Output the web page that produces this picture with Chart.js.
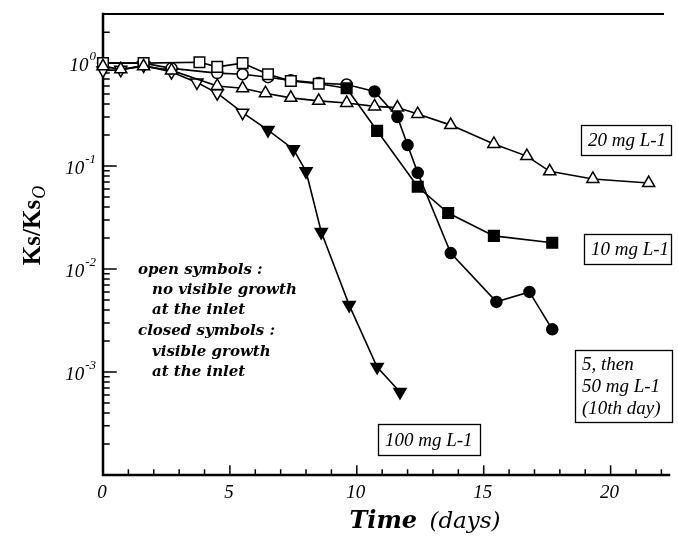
<!DOCTYPE html>
<html><head><meta charset="utf-8">
<script src="https://cdn.jsdelivr.net/npm/chart.js@4"></script>
<style>html,body{margin:0;padding:0;background:#fff}#wrap{width:678px;height:537px}</style>
</head><body><div id="wrap"><canvas id="c" width="678" height="537"></canvas></div>
<script>
// ---- data ----
const days20  = [0, 0.7, 1.6, 2.7, 4.5, 5.5, 6.4, 7.4, 8.5, 9.6, 10.7, 11.6, 12.4, 13.7, 15.4, 16.7, 17.6, 19.3, 21.5];
const ks20    = [0.93, 0.87, 0.93, 0.85, 0.60, 0.57, 0.51, 0.46, 0.43, 0.41, 0.38, 0.37, 0.32, 0.25, 0.164, 0.125, 0.089, 0.075, 0.0685];
const days10  = [0, 1.6, 3.8, 4.5, 5.5, 6.5, 7.4, 8.5, 9.6, 10.8, 12.4, 13.6, 15.4, 17.7];
const ks10    = [1.0, 1.0, 1.02, 0.92, 1.0, 0.78, 0.67, 0.63, 0.57, 0.22, 0.063, 0.035, 0.021, 0.018];
const days5_50 = [0, 1.6, 2.7, 4.5, 5.5, 6.5, 7.4, 8.5, 9.6, 10.7, 11.6, 12.0, 12.4, 13.7, 15.5, 16.8, 17.7];
const ks5_50   = [1.0, 1.0, 0.89, 0.80, 0.78, 0.73, 0.68, 0.64, 0.62, 0.53, 0.30, 0.16, 0.086, 0.0143, 0.0048, 0.0060, 0.0026];
const days100 = [0, 0.7, 1.6, 2.7, 3.7, 4.5, 5.5, 6.5, 7.5, 8.0, 8.6, 9.7, 10.8, 11.7];
const ks100   = [0.85, 0.86, 0.95, 0.82, 0.65, 0.51, 0.33, 0.224, 0.146, 0.089, 0.0229, 0.00447, 0.00112, 0.00064];
// first day with visible growth at the inlet (closed symbols from then on)
const growthDay = { c20: Infinity, c10: 9.6, c5_50: 10.7, c100: 6.5 };
const xTickValues = [0, 5, 10, 15, 20];
const yTickExponents = [0, -1, -2, -3];
const seriesLabels = ['20 mg L-1', '10 mg L-1', '5, then 50 mg L-1 (10th day)', '100 mg L-1'];

const pts = (xs, ys) => xs.map((x, i) => ({ x, y: ys[i] }));
const fillFn = (day) => (ctx) => (ctx.raw && ctx.raw.x >= day) ? '#000' : '#fff';

function ds(label, data, day, style, radius, rotation) {
  return {
    label, data,
    borderColor: '#000', borderWidth: 1.6,
    pointStyle: style, pointRadius: radius, pointHoverRadius: radius,
    pointRotation: rotation || 0,
    pointBorderColor: '#000', pointBorderWidth: 1.5,
    pointBackgroundColor: fillFn(day),
    tension: 0, clip: false, fill: false
  };
}

const SERIF = '"Liberation Serif", "Times New Roman", serif';
const DSERIF = '"DejaVu Serif", serif';

const framePlugin = {
  id: 'frame',
  beforeDatasetsDraw(chart) {
    const ctx = chart.ctx, a = chart.chartArea, xs = chart.scales.x, ys = chart.scales.y;
    ctx.save();
    ctx.strokeStyle = '#000';
    ctx.lineCap = 'square';
    ctx.lineWidth = 2.5;
    ctx.beginPath();
    ctx.moveTo(a.left, a.top); ctx.lineTo(a.left, a.bottom); ctx.lineTo(a.right, a.bottom);
    ctx.stroke();
    ctx.lineWidth = 2;
    ctx.beginPath(); ctx.moveTo(a.left, a.top); ctx.lineTo(a.right - 6, a.top); ctx.stroke();
    ctx.lineWidth = 1.5;
    ctx.beginPath();
    for (let d = 1; d <= Math.floor(xs.max); d++) {
      const px = xs.getPixelForValue(d);
      const len = d % 5 === 0 ? 9 : 5;
      ctx.moveTo(px, a.bottom); ctx.lineTo(px, a.bottom - len);
    }
    for (let e = -4; e <= 0; e++) {
      for (let m = 1; m <= 9; m++) {
        const v = m * Math.pow(10, e);
        if (v <= ys.min * 1.0001 || v > ys.max * 1.0001) continue;
        const py = ys.getPixelForValue(v);
        const len = m === 1 ? 13 : 6;
        ctx.moveTo(a.left, py); ctx.lineTo(a.left + len, py);
      }
    }
    ctx.stroke();
    ctx.restore();
  },
  afterDraw(chart) {
    const ctx = chart.ctx, a = chart.chartArea, xs = chart.scales.x, ys = chart.scales.y;
    ctx.save();
    ctx.fillStyle = '#000';
    // y tick labels 10^n
    yTickExponents.forEach(e => {
      const py = ys.getPixelForValue(Math.pow(10, e));
      const base = '10', sup = String(e);
      ctx.font = 'italic 19px ' + SERIF;
      const wb = ctx.measureText(base).width;
      ctx.font = 'italic 13px ' + SERIF;
      const ws = ctx.measureText(sup).width;
      const x0 = 96 - wb - ws - 1;
      ctx.textBaseline = 'alphabetic'; ctx.textAlign = 'left';
      ctx.font = 'italic 19px ' + SERIF;
      ctx.fillText(base, x0, py + 8);
      ctx.font = 'italic 13px ' + SERIF;
      ctx.fillText(sup, x0 + wb + 1, py - 3);
    });
    // x tick labels
    ctx.font = 'italic 19px ' + SERIF;
    ctx.textAlign = 'center'; ctx.textBaseline = 'middle';
    xTickValues.forEach(v => ctx.fillText(String(v), xs.getPixelForValue(v) - 1, a.bottom + 18));
    // x title
    ctx.textBaseline = 'alphabetic'; ctx.textAlign = 'left';
    ctx.font = 'bold italic 24px ' + DSERIF;
    const t1 = 'Time ', t2 = '(days)';
    const w1 = ctx.measureText(t1).width;
    ctx.font = 'italic 23px ' + DSERIF;
    const w2 = ctx.measureText(t2).width;
    const tx = 423 - (w1 + w2) / 2;
    ctx.font = 'bold italic 24px ' + DSERIF;
    ctx.fillText(t1, tx, 528);
    ctx.font = 'italic 23px ' + DSERIF;
    ctx.fillText(t2, tx + w1 + 4, 528);
    // y title Ks/Ks_O
    ctx.save();
    ctx.translate(40, 226);
    ctx.rotate(-Math.PI / 2);
    ctx.font = 'bold 25px ' + SERIF;
    const yb = 'Ks/Ks';
    const wyb = ctx.measureText(yb).width;
    ctx.font = 'italic 18px ' + SERIF;
    const wys = ctx.measureText('O').width;
    const sx = -(wyb + wys) / 2;
    ctx.font = 'bold 25px ' + SERIF;
    ctx.fillText(yb, sx, 0);
    ctx.font = 'italic 18px ' + SERIF;
    ctx.fillText('O', sx + wyb + 1, 5);
    ctx.restore();
    // annotation block
    ctx.font = 'bold italic 15px ' + DSERIF;
    ctx.textBaseline = 'middle';
    const notes = [
      ['open symbols :', 138, 270],
      ['no visible growth', 152, 290],
      ['at the inlet', 152, 310],
      ['closed symbols :', 138, 331],
      ['visible growth', 152, 352],
      ['at the inlet', 152, 372]
    ];
    notes.forEach(n => ctx.fillText(n[0], n[1], n[2]));
    // series label boxes
    const boxes = [
      { lines: ['20 mg L-1'], x: 581, y: 125, w: 90, h: 30 },
      { lines: ['10 mg L-1'], x: 584, y: 234, w: 87, h: 30 },
      { lines: ['5, then', '50 mg L-1', '(10th day)'], x: 575, y: 350, w: 97, h: 72 },
      { lines: ['100 mg L-1'], x: 378, y: 424, w: 102, h: 31 }
    ];
    ctx.font = 'italic 19px ' + SERIF;
    ctx.lineWidth = 1.3;
    boxes.forEach(b => {
      ctx.strokeRect(b.x + 0.5, b.y + 0.5, b.w, b.h);
      const lh = b.lines.length > 1 ? 22 : 0;
      const y0 = b.y + b.h / 2 - lh * (b.lines.length - 1) / 2 + 1;
      b.lines.forEach((l, i) => ctx.fillText(l, b.x + 7, y0 + i * lh));
    });
    ctx.restore();
  }
};

new Chart(document.getElementById('c'), {
  type: 'line',
  data: {
    datasets: [
      ds(seriesLabels[0], pts(days20, ks20), growthDay.c20, 'triangle', 7, 0),
      ds(seriesLabels[1], pts(days10, ks10), growthDay.c10, 'rect', 7.5, 0),
      ds(seriesLabels[2], pts(days5_50, ks5_50), growthDay.c5_50, 'circle', 5.5, 0),
      ds(seriesLabels[3], pts(days100, ks100), growthDay.c100, 'triangle', 7, 180)
    ]
  },
  plugins: [framePlugin],
  options: {
    responsive: false,
    animation: false,
    events: [],
    layout: { padding: { left: 0, top: 14, right: 8, bottom: 0 } },
    plugins: { legend: { display: false }, tooltip: { enabled: false }, title: { display: false } },
    scales: {
      x: {
        type: 'linear', min: 0, max: 22.3,
        grid: { display: false, drawTicks: false }, border: { display: false },
        ticks: { display: false },
        afterFit(s) { s.height = 62; }
      },
      y: {
        type: 'logarithmic', min: 1e-4, max: 3,
        grid: { display: false, drawTicks: false }, border: { display: false },
        ticks: { display: false },
        afterFit(s) { s.width = 103; }
      }
    }
  }
});
</script>
</body></html>
